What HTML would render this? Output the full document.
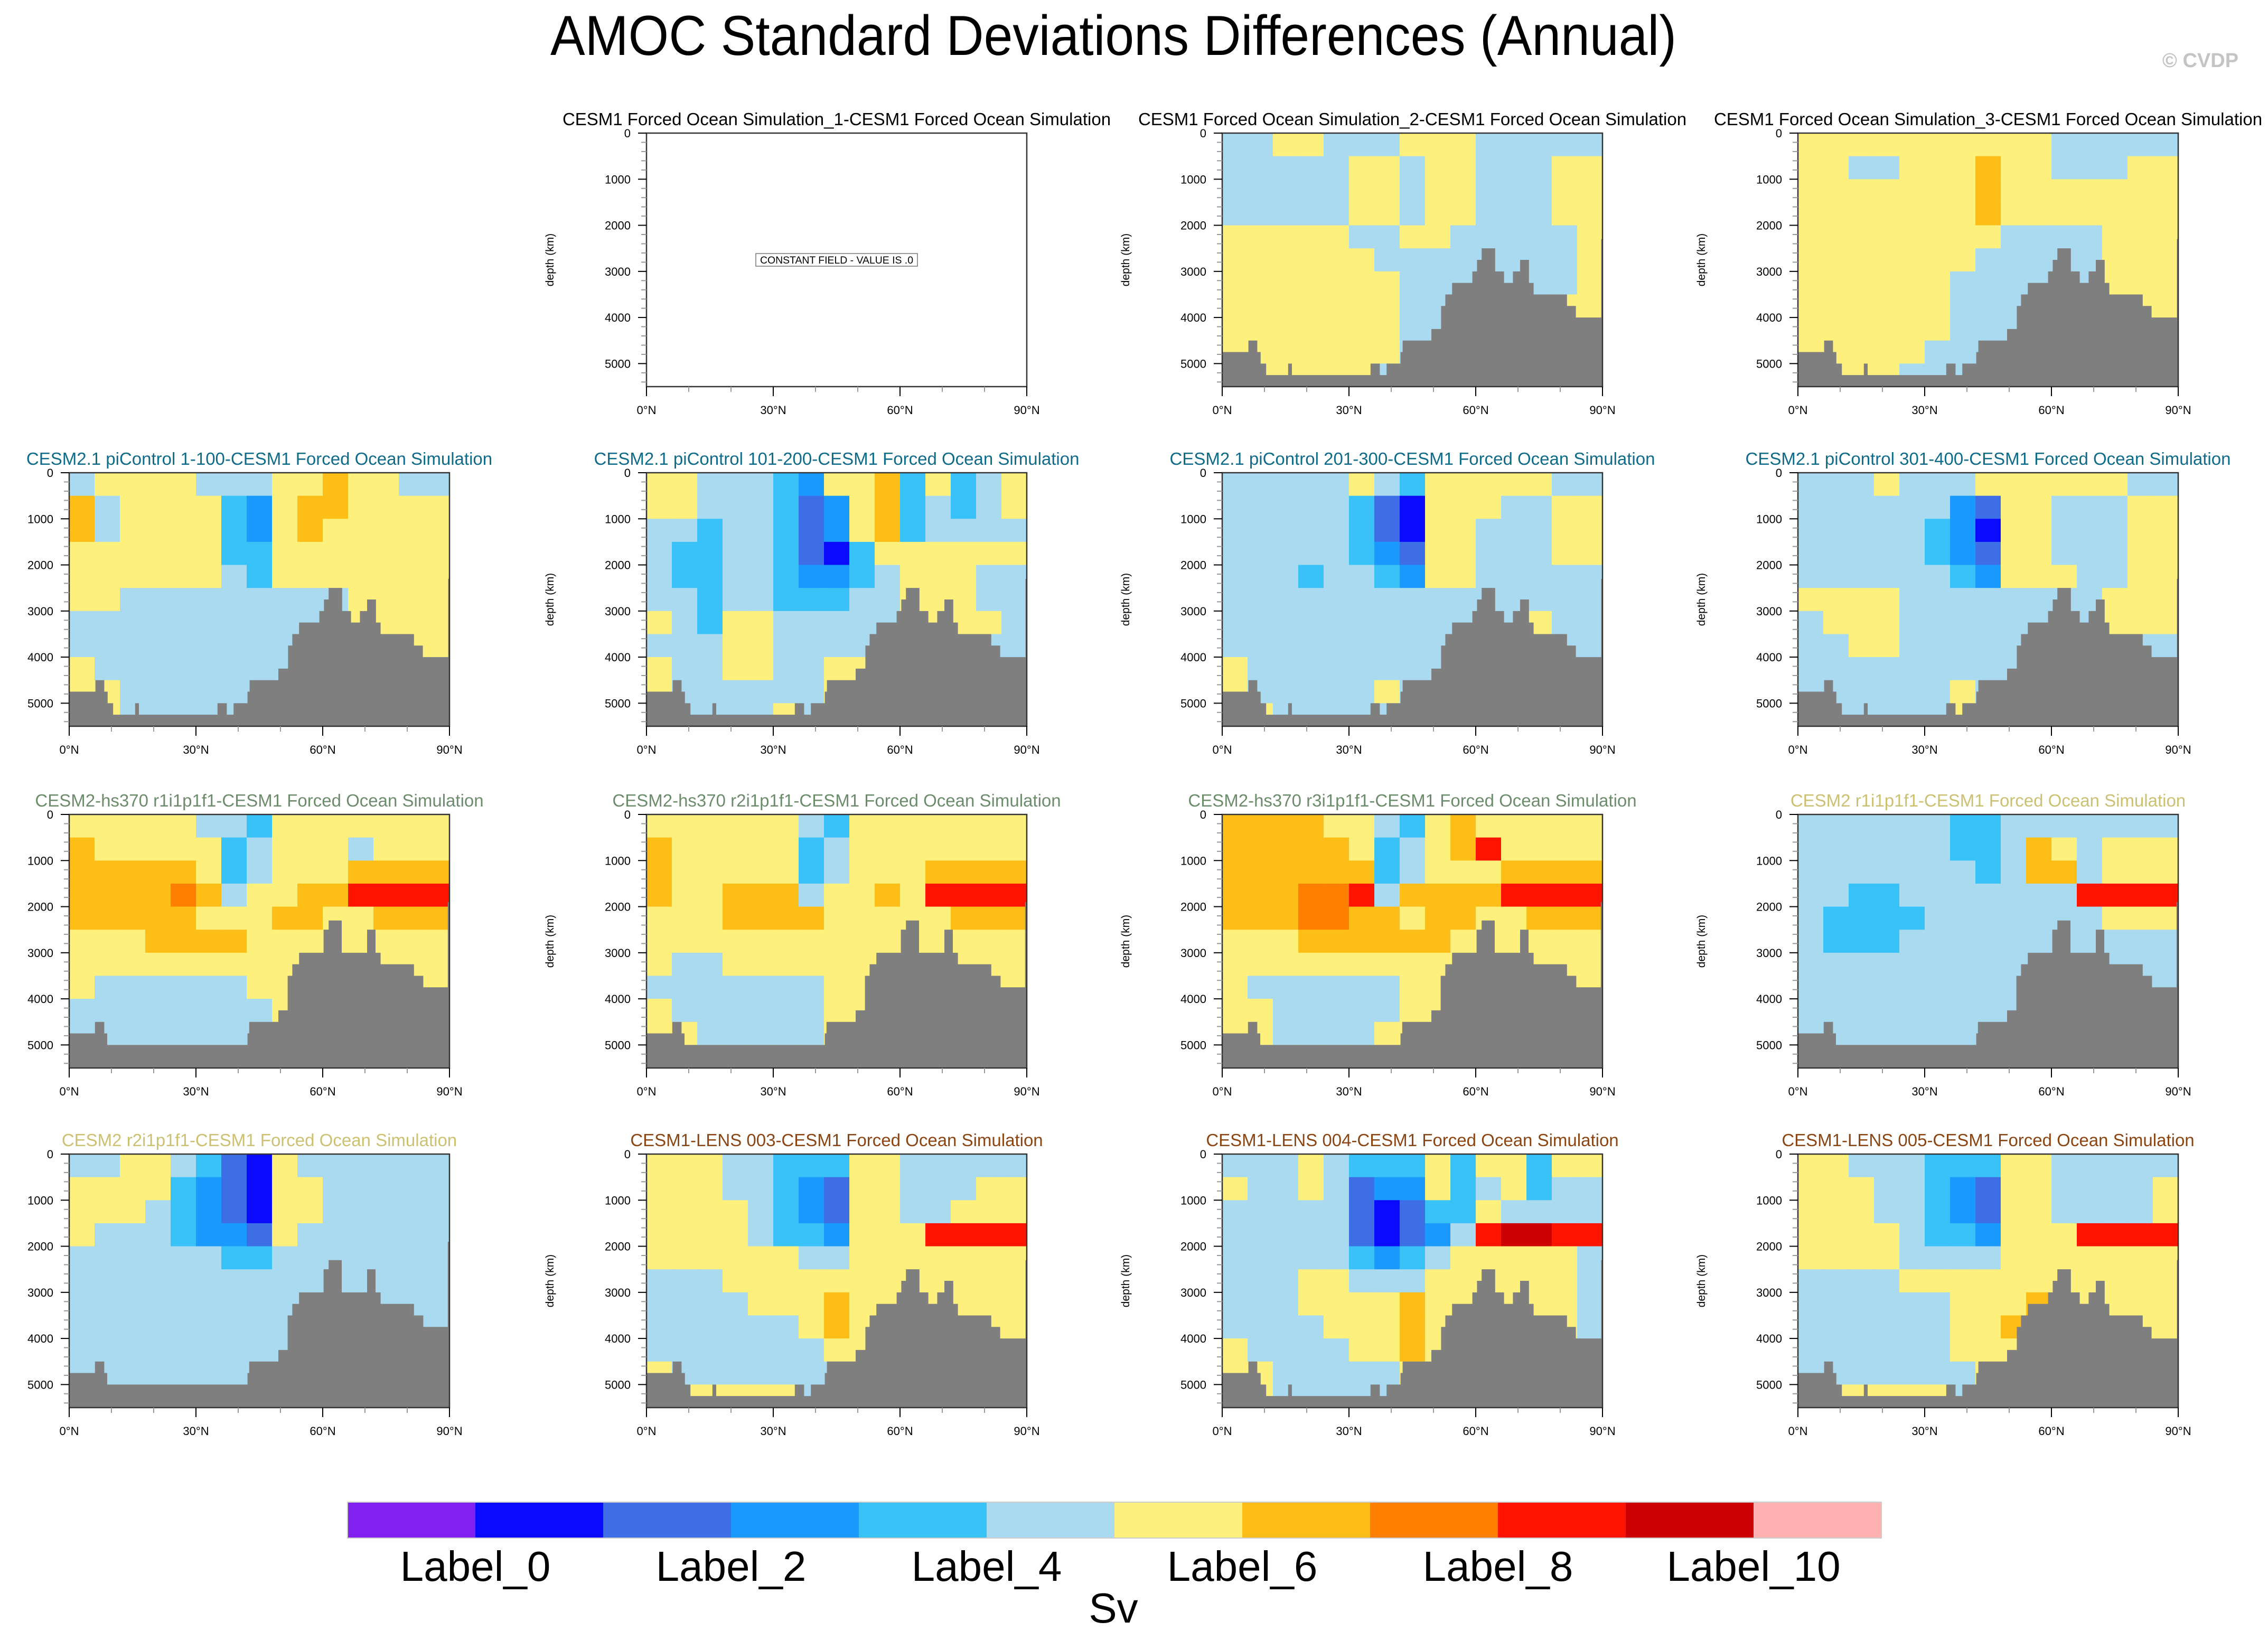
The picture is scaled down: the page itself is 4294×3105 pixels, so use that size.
<!DOCTYPE html>
<html><head><meta charset="utf-8"><title>AMOC Standard Deviations Differences (Annual)</title>
<style>html,body{margin:0;padding:0;background:#fff}svg{display:block}text{font-family:"Liberation Sans",Arial,sans-serif}</style>
</head><body>
<svg id="chart" xmlns="http://www.w3.org/2000/svg" width="4294" height="3105" viewBox="0 0 4294 3105">
<rect x="0" y="0" width="4294" height="3105" fill="#fff"/>
<text x="2108" y="104" font-size="107" text-anchor="middle" textLength="2132" lengthAdjust="spacingAndGlyphs">AMOC Standard Deviations Differences (Annual)</text>
<text x="4166" y="127" font-size="38" font-weight="bold" fill="#c4c4c4" text-anchor="middle">© CVDP</text>
<g id="panels"></g>
<g id="colorbar"></g>
</svg>
<script>
const palette = ['#8021F0','#0A0AFF','#3E6EE6','#1A9AFF','#38C2F8','#A9DAF0','#FEF07C','#FDBE17','#FF8000','#FF1400','#CC0000','#FFB0B0'];
const cbLabels = ['Label_0','Label_2','Label_4','Label_6','Label_8','Label_10'];
const depthTicks = [0,1000,2000,3000,4000,5000];
const latTicks = [0,30,60,90];
const latTickLabels = ['0°N','30°N','60°N','90°N'];

const bathyALat = [0,6.2,8.3,9.1,10.4,15.6,16.5,35.1,37.3,38.9,42.2,42.7,49.5,51.8,52.8,54.4,59.2,60.3,61.4,64.6,66.7,68.8,70.5,72.6,73.7,81.6,83.7,89.7];
const bathyADepth = [4750,4500,4750,5000,5250,5000,5250,5000,5250,5000,4750,4500,4250,3750,3500,3250,3000,2750,2500,3000,3250,3000,2750,3250,3500,3750,4000,2300];
const bathyCLat = [0,6.1,8.3,9.0,42.2,42.6,49.5,51.7,52.8,54.4,60.2,61.4,64.5,70.5,72.5,73.7,81.6,83.8,89.6];
const bathyCDepth = [4750,4500,4750,5000,4750,4500,4250,3500,3250,3000,2500,2300,3000,2500,3000,3250,3500,3750,1900];

const gridR1C3 = ["556655566655555","555556656655566","555556656655566","555556656655566","666665566555556","666666555555556","666666655555556","666666655555566","666666655555566","666666655555566","666666555555555"];
const gridR1C4 = ["666666666655555","665566676655566","666666676666666","666666676666666","666666665555666","666666655555666","666666555555666","666666555555666","666666555555666","666665555555666","666655555555666"];
const gridR2C1 = ["566665556676655","756666436776666","756666436766666","666666446666666","666666546666666","665555555556666","555555555556666","555555555555566","655555555555555","665555555555555","665555555555555"];
const gridR2C2 = ["665554366746456","665554236745456","554554236745555","544554214666666","544554334566655","554554445566655","654665555566665","555665555555555","655665566555555","655555566555555","555556555555555"];
const gridR2C3 = ["555556546666655","555554216665566","555554216655566","555554326655566","555455436655555","555555555555555","555555555555655","555555555555555","655555555555555","655555655555555","665555555555555"];
const gridR2C4 = ["555655566666655","555555326655566","555554316655566","555554326655566","555555436665566","666655555555666","566655555555666","556655555555555","555555555555555","555555655555555","555555655555555"];
const gridR3C1 = ["666665546666666","766666456665666","777776456667777","777787566779999","777776667766777","666777766666666","666666666666666","655555566666666","555555556666666","555555556666666","666666666666666"];
const gridR3C2 = ["666666546666666","766666456666666","766666456667777","766777566769999","666777766666777","666666666666666","655666666666666","555555566666666","655555566666666","665555566666666","666666666666666"];
const gridR3C3 = ["777766546766666","777776456796666","777777456667777","777889577779999","777887767766777","666777777666666","666666666666666","655555566666666","665555566666666","665555666666666","666666666666666"];
const gridR3C4 = ["555555445555555","555555445765666","555555545775666","554455555559999","544445555555666","544455555555555","555555555555555","555555555555555","555555555555555","555555555555555","555555555555555"];
const gridR4C1 = ["556654216555555","666643216655555","666543216655555","655543326555555","555555445555555","555555555555555","555555555555555","555555555555555","555555555555555","555555555555555","555555555555555"];
const gridR4C2 = ["666554446655555","666554326655566","666654326655666","666654436669999","666666556666666","555666666666666","555566676666666","555555676666666","555555566666666","655555555666666","666666555666666"];
const gridR4C3 = ["555654446466466","655652336456455","555552124465555","55555212359aa99","555554345666665","555665556666665","555666676666665","555566676666665","655556676666655","665555566666666","665555555666666"];
const gridR4C4 = ["665554446655555","666554326655556","666554326655556","666654436669999","666655556666666","555566666666666","555555666766666","555555667766666","555555666666666","555555566666666","666666556666666"];

const colLeft = [131,1224,2314,3404];
const rowTop = [252,895,1542,2185];
const PW = 720, PH = 480, DMAX = 5500, LMAX = 90;
const NS = 'http://www.w3.org/2000/svg';
function mk(tag, attrs, parent){ const e=document.createElementNS(NS,tag); for(const k in attrs) e.setAttribute(k,attrs[k]); if(parent) parent.appendChild(e); return e; }

const panels = [
 {r:0,c:1,title:'CESM1 Forced Ocean Simulation_1-CESM1 Forced Ocean Simulation',color:'#000',grid:null,bl:null,bd:null},
 {r:0,c:2,title:'CESM1 Forced Ocean Simulation_2-CESM1 Forced Ocean Simulation',color:'#000',grid:gridR1C3,bl:bathyALat,bd:bathyADepth},
 {r:0,c:3,title:'CESM1 Forced Ocean Simulation_3-CESM1 Forced Ocean Simulation',color:'#000',grid:gridR1C4,bl:bathyALat,bd:bathyADepth},
 {r:1,c:0,title:'CESM2.1 piControl 1-100-CESM1 Forced Ocean Simulation',color:'#0E6B8A',grid:gridR2C1,bl:bathyALat,bd:bathyADepth},
 {r:1,c:1,title:'CESM2.1 piControl 101-200-CESM1 Forced Ocean Simulation',color:'#0E6B8A',grid:gridR2C2,bl:bathyALat,bd:bathyADepth},
 {r:1,c:2,title:'CESM2.1 piControl 201-300-CESM1 Forced Ocean Simulation',color:'#0E6B8A',grid:gridR2C3,bl:bathyALat,bd:bathyADepth},
 {r:1,c:3,title:'CESM2.1 piControl 301-400-CESM1 Forced Ocean Simulation',color:'#0E6B8A',grid:gridR2C4,bl:bathyALat,bd:bathyADepth},
 {r:2,c:0,title:'CESM2-hs370 r1i1p1f1-CESM1 Forced Ocean Simulation',color:'#6C8C6C',grid:gridR3C1,bl:bathyCLat,bd:bathyCDepth},
 {r:2,c:1,title:'CESM2-hs370 r2i1p1f1-CESM1 Forced Ocean Simulation',color:'#6C8C6C',grid:gridR3C2,bl:bathyCLat,bd:bathyCDepth},
 {r:2,c:2,title:'CESM2-hs370 r3i1p1f1-CESM1 Forced Ocean Simulation',color:'#6C8C6C',grid:gridR3C3,bl:bathyCLat,bd:bathyCDepth},
 {r:2,c:3,title:'CESM2 r1i1p1f1-CESM1 Forced Ocean Simulation',color:'#CCC072',grid:gridR3C4,bl:bathyCLat,bd:bathyCDepth},
 {r:3,c:0,title:'CESM2 r2i1p1f1-CESM1 Forced Ocean Simulation',color:'#CCC072',grid:gridR4C1,bl:bathyCLat,bd:bathyCDepth},
 {r:3,c:1,title:'CESM1-LENS 003-CESM1 Forced Ocean Simulation',color:'#8B4513',grid:gridR4C2,bl:bathyALat,bd:bathyADepth},
 {r:3,c:2,title:'CESM1-LENS 004-CESM1 Forced Ocean Simulation',color:'#8B4513',grid:gridR4C3,bl:bathyALat,bd:bathyADepth},
 {r:3,c:3,title:'CESM1-LENS 005-CESM1 Forced Ocean Simulation',color:'#8B4513',grid:gridR4C4,bl:bathyALat,bd:bathyADepth}
];

const root = document.getElementById('panels');
panels.forEach((p, idx) => {
  const L = colLeft[p.c], T = rowTop[p.r];
  const xs = lat => L + lat / LMAX * PW;
  const ys = d => T + d / DMAX * PH;
  const g = mk('g', {}, root);
  
  
  const t = mk('text', {x: L + PW/2, y: T - 15, 'font-size': 33, 'text-anchor': 'middle', fill: p.color}, g);
  t.textContent = p.title;
  
  
  if (p.grid) {
    const nr = p.grid.length, nc = p.grid[0].length;
    const dStep = DMAX / nr, lStep = LMAX / nc;
    for (let i = 0; i < nr; i++) for (let j = 0; j < nc; j++) {
      const k = parseInt(p.grid[i][j], 16);
      const x0 = xs(j*lStep), x1 = xs((j+1)*lStep), y0 = ys(i*dStep), y1 = ys((i+1)*dStep);
      const cell = mk('rect', {x: x0, y: y0, width: x1-x0+0.6, height: y1-y0+0.6, fill: palette[k]}, g);
      
      
    }
    let d = 'M' + xs(0) + ',' + ys(DMAX);
    for (let i = 0; i < p.bl.length; i++) {
      const x0 = xs(p.bl[i]), x1 = xs(i+1 < p.bl.length ? p.bl[i+1] : LMAX);
      d += ' L' + x0 + ',' + ys(p.bd[i]) + ' L' + x1 + ',' + ys(p.bd[i]);
    }
    d += ' L' + xs(LMAX) + ',' + ys(DMAX) + ' Z';
    const b = mk('path', {d: d, fill: '#7F7F7F'}, g);
    
    
  } else {
    const bx = mk('rect', {x: L + PW/2 - 153, y: T + PH/2 - 12, width: 306, height: 24, fill: '#fff', stroke: '#777', 'stroke-width': 1.5}, g);
    
    
    const ct = mk('text', {x: L + PW/2, y: T + PH/2 + 7, 'font-size': 19, 'text-anchor': 'middle', textLength: 290, lengthAdjust: 'spacingAndGlyphs'}, g);
    ct.textContent = 'CONSTANT FIELD - VALUE IS .0';
    
    
  }
  const fr = mk('rect', {x: L, y: T, width: PW, height: PH, fill: 'none', stroke: '#333', 'stroke-width': 2.5}, g);
  
  
  for (let dd = 0; dd <= DMAX; dd += 200) {
    const major = dd % 1000 === 0;
    mk('line', {x1: L, x2: L - (major ? 16 : 10), y1: ys(dd), y2: ys(dd), stroke: major ? '#000' : '#999', 'stroke-width': 2}, g);
  }
  depthTicks.forEach(dv => {
    const tl = mk('text', {x: L - 30, y: ys(dv) + 8, 'font-size': 22, 'text-anchor': 'end'}, g);
    tl.textContent = String(dv);
    
    
  });
  for (let lv = 0; lv <= LMAX; lv += 10) {
    const major = lv % 30 === 0;
    mk('line', {x1: xs(lv), x2: xs(lv), y1: T + PH, y2: T + PH + (major ? 18 : 10), stroke: major ? '#000' : '#999', 'stroke-width': 2}, g);
  }
  latTicks.forEach((lv, i) => {
    const xl = mk('text', {x: xs(lv), y: T + PH + 52, 'font-size': 22, 'text-anchor': 'middle'}, g);
    xl.textContent = latTickLabels[i];
    
    
  });
  const yt = mk('text', {x: 0, y: 0, 'font-size': 21, 'text-anchor': 'middle', transform: 'translate(' + (L - 176) + ',' + (T + PH/2) + ') rotate(-90)'}, g);
  yt.textContent = 'depth (km)';
  
  
});

const cb = document.getElementById('colorbar');
const cbL = 658, cbW = 242, cbT = 2844, cbH = 68;
palette.forEach((col, i) => {
  const r = mk('rect', {x: cbL + i*cbW, y: cbT, width: cbW + 0.5, height: cbH, fill: col}, cb);
  
  
});
mk('rect', {x: cbL, y: cbT, width: cbW*12, height: cbH, fill: 'none', stroke: '#ccc', 'stroke-width': 2}, cb);
cbLabels.forEach((lab, i) => {
  const tx = mk('text', {x: cbL + (2*i+1)*cbW, y: 2993, 'font-size': 80, 'text-anchor': 'middle'}, cb);
  tx.textContent = lab;
  
  
});
const sv = mk('text', {x: 2108, y: 3072, 'font-size': 80, 'text-anchor': 'middle'}, cb);
sv.textContent = 'Sv';


</script>
</body></html>
